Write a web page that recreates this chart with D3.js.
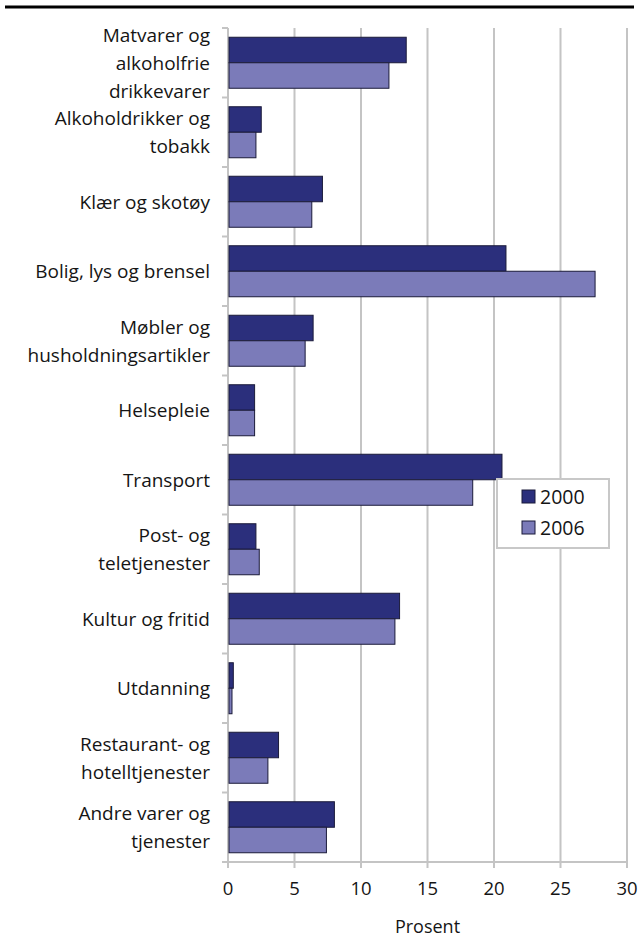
<!DOCTYPE html>
<html>
<head>
<meta charset="utf-8">
<script src="https://cdn.jsdelivr.net/npm/d3@7"></script>
<style>
  body { margin: 0; background: #fff; }
  svg text { font-family: "Open Sans", "Noto Sans", sans-serif; fill: #151515; }
</style>
</head>
<body>
<div id="chart"></div>
<script>
// categories, each one split into display lines
var categories = [
    ["Matvarer og", "alkoholfrie", "drikkevarer"],
    ["Alkoholdrikker og", "tobakk"],
    ["Klær og skotøy"],
    ["Bolig, lys og brensel"],
    ["Møbler og", "husholdningsartikler"],
    ["Helsepleie"],
    ["Transport"],
    ["Post- og", "teletjenester"],
    ["Kultur og fritid"],
    ["Utdanning"],
    ["Restaurant- og", "hotelltjenester"],
    ["Andre varer og", "tjenester"]
];
var seriesNames = ["2000", "2006"];
var values2000 = [13.4, 2.5, 7.1, 20.9, 6.4, 2.0, 20.6, 2.1, 12.9, 0.4, 3.8, 8.0];
var values2006 = [12.1, 2.1, 6.3, 27.6, 5.8, 2.0, 18.4, 2.35, 12.55, 0.3, 3.0, 7.4];
var xTicks = [0, 5, 10, 15, 20, 25, 30];
var colors = ["#2b2f7c", "#7b7bb9"];

function init() {
    var w = 639, h = 940;
    var left = 228, right = 627, top = 28, bottom = 862;

    var svg = d3.select("#chart").append("svg")
        .attr("width", w)
        .attr("height", h);

    // heavy rule at the very top
    svg.append("line")
        .attr("x1", 5).attr("x2", 634)
        .attr("y1", 7).attr("y2", 7)
        .attr("stroke", "#000")
        .attr("stroke-width", 3);

    var idx = d3.range(categories.length);

    var x = d3.scaleLinear().domain([0, 30]).range([left, right]);
    var y = d3.scaleBand()
        .domain(idx)
        .range([top, bottom])
        .paddingInner(0.266)
        .paddingOuter(0.133);
    var ySub = d3.scaleBand()
        .domain(seriesNames)
        .range([0, y.bandwidth()]);

    // vertical grid lines (with tick below axis)
    svg.append("g").selectAll("line")
        .data(xTicks.slice(1))
        .enter().append("line")
        .attr("x1", function(d) { return x(d); })
        .attr("x2", function(d) { return x(d); })
        .attr("y1", top)
        .attr("y2", bottom + 6)
        .attr("stroke", "#c4c4c4")
        .attr("stroke-width", 2);

    // category axis
    svg.append("line")
        .attr("x1", x(0)).attr("x2", x(0))
        .attr("y1", top).attr("y2", bottom + 6)
        .attr("stroke", "#c4c4c4").attr("stroke-width", 2);
    var bounds = idx.map(function(i) { return top + i * y.step(); }).concat([bottom]);
    svg.append("g").selectAll("line")
        .data(bounds)
        .enter().append("line")
        .attr("x1", x(0) - 6).attr("x2", x(0))
        .attr("y1", function(d) { return d; })
        .attr("y2", function(d) { return d; })
        .attr("stroke", "#c4c4c4").attr("stroke-width", 2);

    // value axis line
    svg.append("line")
        .attr("x1", x(0) - 6).attr("x2", x(30) + 1)
        .attr("y1", bottom).attr("y2", bottom)
        .attr("stroke", "#c4c4c4").attr("stroke-width", 2);

    // tick labels
    svg.append("g").selectAll("text")
        .data(xTicks)
        .enter().append("text")
        .attr("x", function(d) { return x(d); })
        .attr("y", 895)
        .attr("text-anchor", "middle")
        .attr("font-size", 18.5)
        .text(function(d) { return d; });

    svg.append("text")
        .attr("x", x(15))
        .attr("y", 933)
        .attr("text-anchor", "middle")
        .attr("font-size", 18)
        .text("Prosent");

    // bars
    var groups = svg.append("g").selectAll("g")
        .data(idx)
        .enter().append("g")
        .attr("transform", function(i) { return "translate(0," + y(i) + ")"; });

    groups.selectAll("rect")
        .data(function(i) {
            return [
                { s: seriesNames[0], v: values2000[i], c: colors[0] },
                { s: seriesNames[1], v: values2006[i], c: colors[1] }
            ];
        })
        .enter().append("rect")
        .attr("x", x(0) + 1)
        .attr("y", function(d) { return ySub(d.s); })
        .attr("width", function(d) { return x(d.v) - x(0) - 1; })
        .attr("height", ySub.bandwidth())
        .attr("fill", function(d) { return d.c; })
        .attr("stroke", "#1b1b3a")
        .attr("stroke-width", 1);

    // category labels
    var lineH = 28;
    svg.append("g").selectAll("text")
        .data(idx)
        .enter().append("text")
        .attr("text-anchor", "end")
        .attr("font-size", 19)
        .each(function(i) {
            var lines = categories[i];
            var cy = y(i) + y.bandwidth() / 2;
            var y0 = cy - (lines.length - 1) * lineH / 2 + 7;
            var t = d3.select(this);
            lines.forEach(function(l, k) {
                t.append("tspan")
                    .attr("x", 210)
                    .attr("y", y0 + k * lineH)
                    .text(l);
            });
        });

    // legend
    var lg = svg.append("g").attr("transform", "translate(497,479)");
    lg.append("rect")
        .attr("width", 112).attr("height", 69)
        .attr("fill", "#fff")
        .attr("stroke", "#c8c8c8").attr("stroke-width", 2);
    var items = lg.selectAll("g.item")
        .data(seriesNames)
        .enter().append("g")
        .attr("transform", function(d, i) { return "translate(25," + (11 + i * 31) + ")"; });
    items.append("rect")
        .attr("width", 13).attr("height", 13)
        .attr("fill", function(d, i) { return colors[i]; })
        .attr("stroke", "#1b1b3a").attr("stroke-width", 1);
    items.append("text")
        .attr("x", 18).attr("y", 13.5)
        .attr("font-size", 19.5)
        .text(function(d) { return d; });
}
window.onload = init;
</script>
</body>
</html>
